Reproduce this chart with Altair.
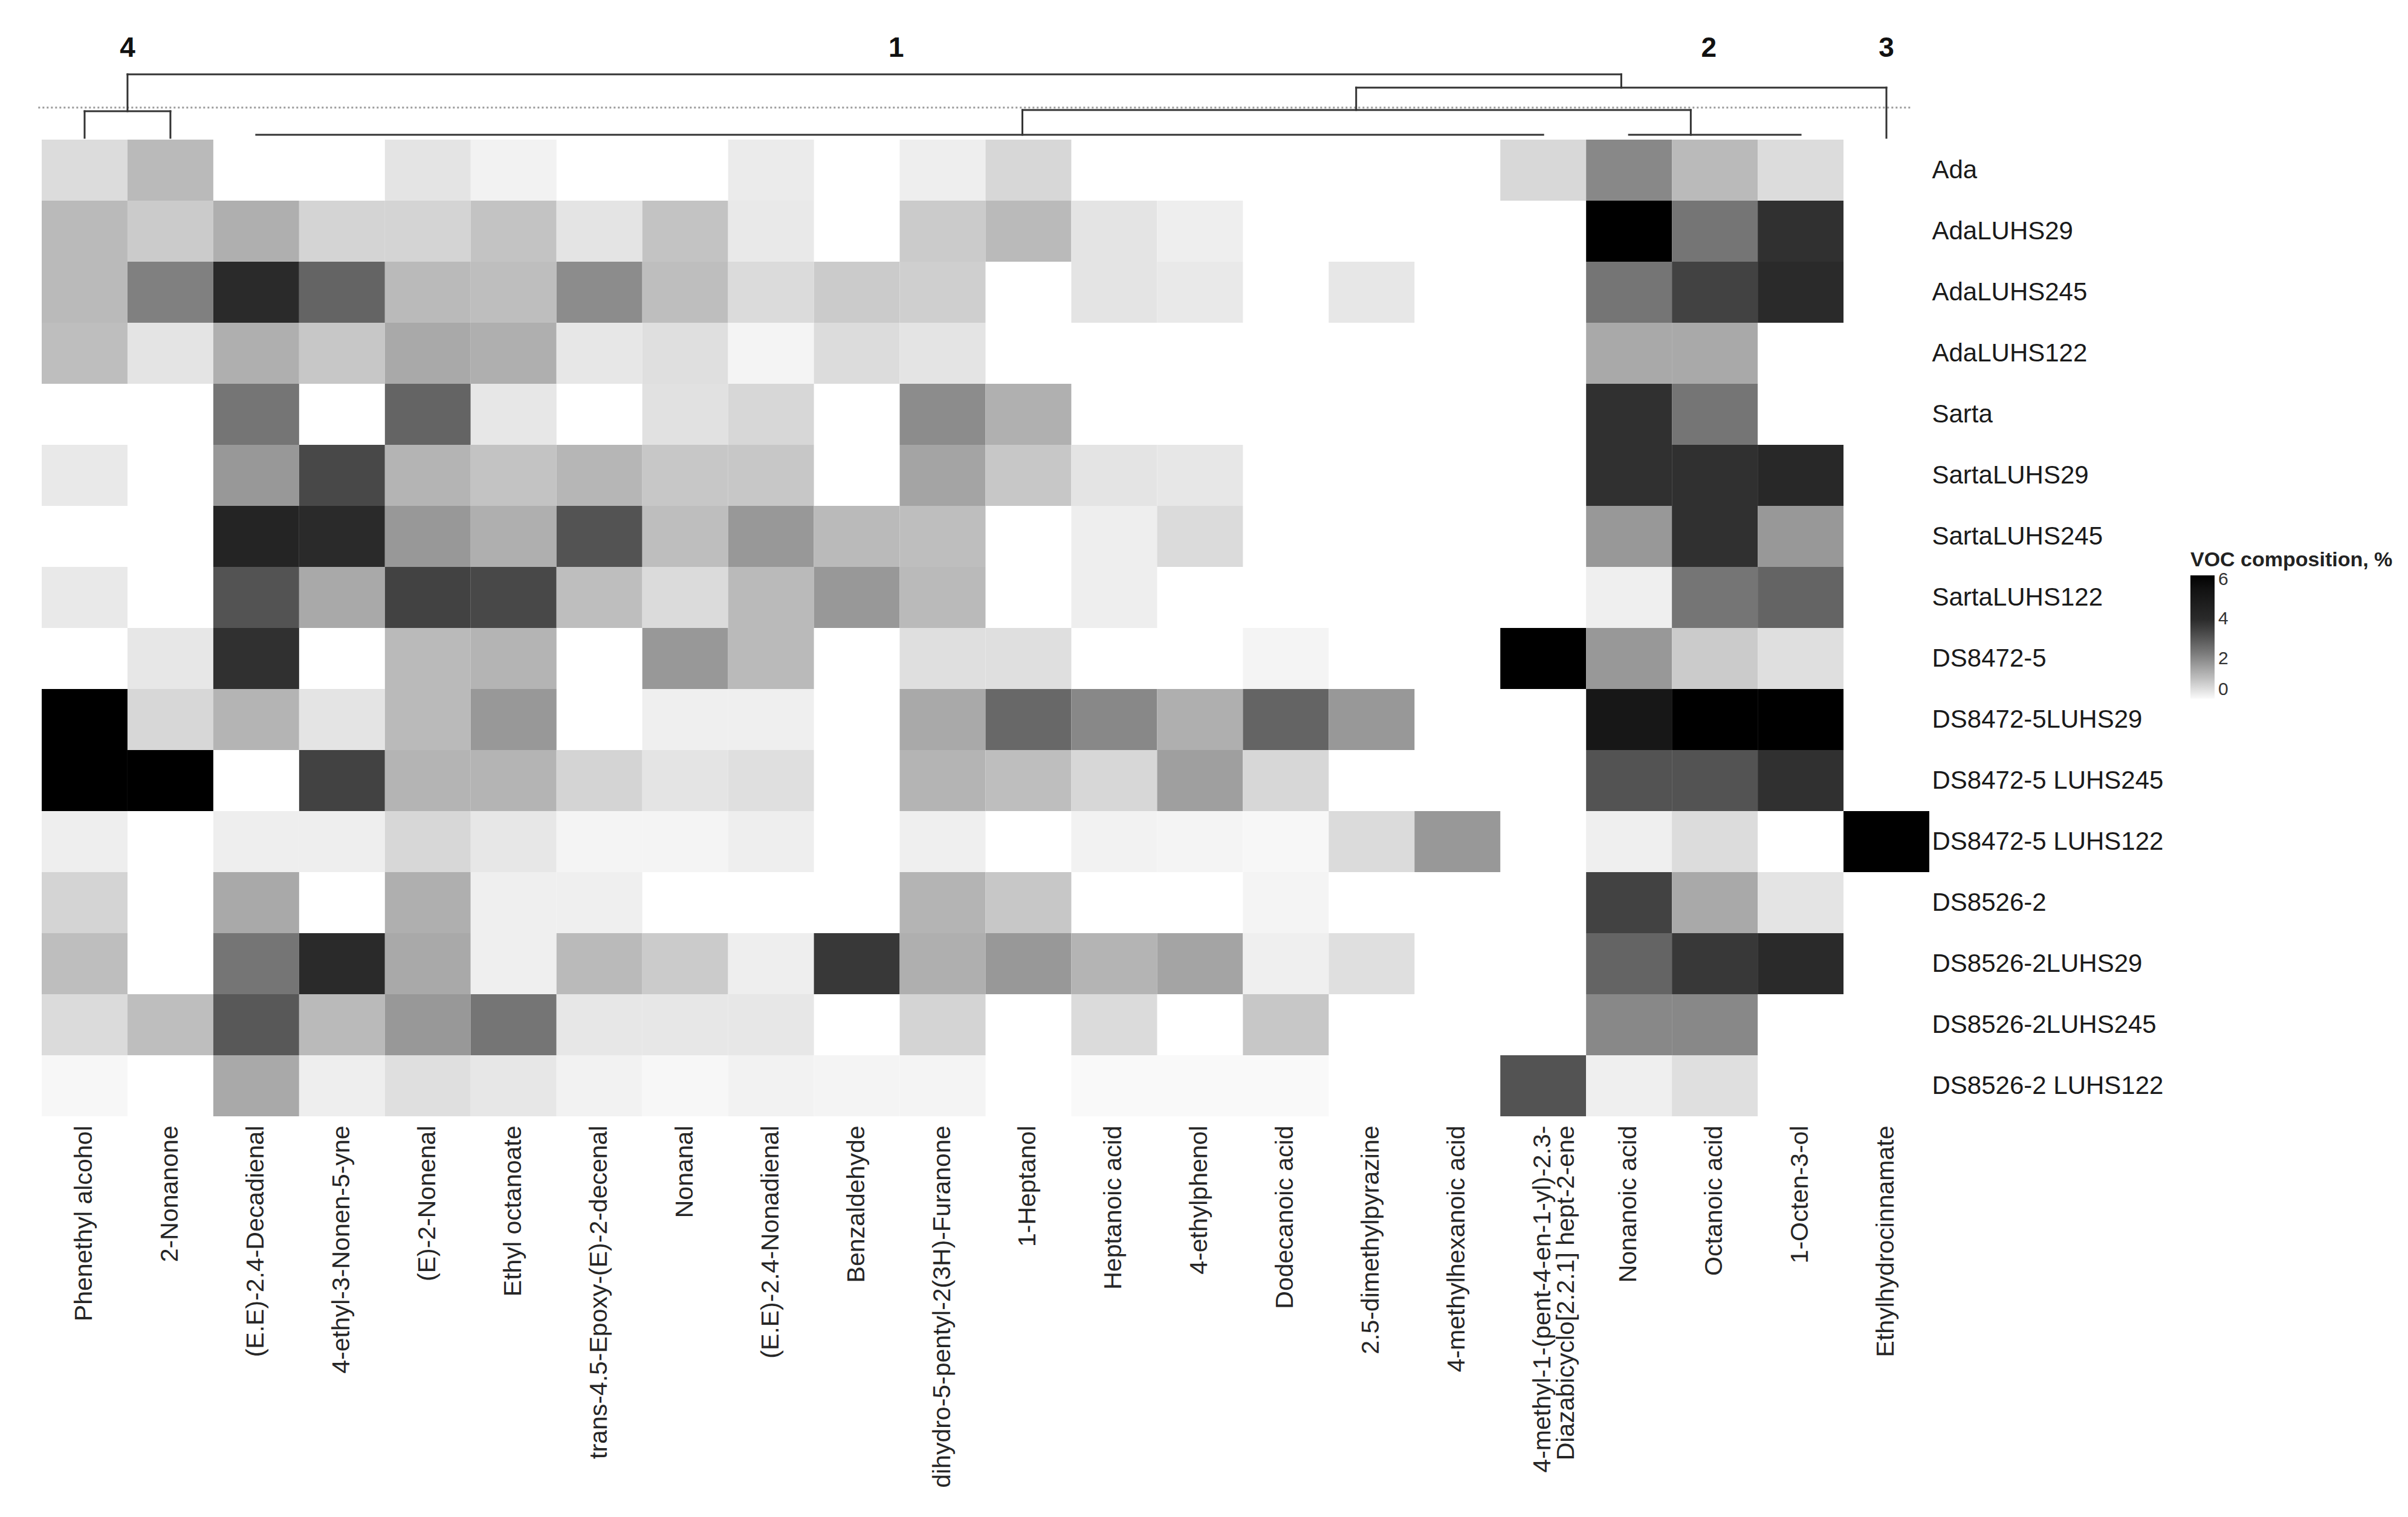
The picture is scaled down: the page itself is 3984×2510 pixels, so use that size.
import altair as alt
import pandas as pd

N = None

compounds = [
    "Phenethyl alcohol", "2-Nonanone", "(E.E)-2.4-Decadienal", "4-ethyl-3-Nonen-5-yne",
    "(E)-2-Nonenal", "Ethyl octanoate", "trans-4.5-Epoxy-(E)-2-decenal", "Nonanal",
    "(E.E)-2.4-Nonadienal", "Benzaldehyde", "dihydro-5-pentyl-2(3H)-Furanone", "1-Heptanol",
    "Heptanoic acid", "4-ethylphenol", "Dodecanoic acid", "2.5-dimethylpyrazine",
    "4-methylhexanoic acid",
    "4-methyl-1-(pent-4-en-1-yl)-2.3-\nDiazabicyclo[2.2.1] hept-2-ene",
    "Nonanoic acid", "Octanoic acid", "1-Octen-3-ol", "Ethylhydrocinnamate",
]

samples = [
    "Ada", "AdaLUHS29", "AdaLUHS245", "AdaLUHS122",
    "Sarta", "SartaLUHS29", "SartaLUHS245", "SartaLUHS122",
    "DS8472-5", "DS8472-5LUHS29", "DS8472-5 LUHS245", "DS8472-5 LUHS122",
    "DS8526-2", "DS8526-2LUHS29", "DS8526-2LUHS245", "DS8526-2 LUHS122",
]

ada            = [0.52, 1.12, N, N, 0.38, 0.14, N, N, 0.25, N, 0.21, 0.6, N, N, N, N, N, 0.59, 2.04, 1.12, 0.52, N]
ada_luhs29     = [1.12, 0.82, 1.32, 0.66, 0.66, 0.95, 0.38, 0.95, 0.29, N, 0.82, 1.12, 0.38, 0.21, N, N, N, N, 6.2, 2.4, 3.85, N]
ada_luhs245    = [1.12, 2.2, 4.0, 2.75, 1.12, 1.04, 1.96, 1.04, 0.54, 0.82, 0.75, N, 0.38, 0.29, N, 0.32, N, N, 2.4, 3.46, 4.0, N]
ada_luhs122    = [1.04, 0.38, 1.32, 0.89, 1.43, 1.32, 0.32, 0.46, 0.1, 0.52, 0.38, N, N, N, N, N, N, N, 1.43, 1.43, N, N]
sarta          = [N, N, 2.4, N, 2.75, 0.32, N, 0.43, 0.6, N, 1.96, 1.3, N, N, N, N, N, N, 3.85, 2.4, N, N]
sarta_luhs29   = [0.29, N, 1.73, 3.33, 1.23, 0.95, 1.18, 0.89, 0.89, N, 1.52, 0.89, 0.38, 0.32, N, N, N, N, 3.85, 3.85, 4.1, N]
sarta_luhs245  = [N, N, 4.38, 4.0, 1.73, 1.32, 3.1, 1.04, 1.73, 1.12, 1.04, N, 0.21, 0.54, N, N, N, N, 1.73, 3.85, 1.73, N]
sarta_luhs122  = [0.29, N, 3.1, 1.43, 3.46, 3.33, 1.04, 0.54, 1.12, 1.73, 1.12, N, 0.21, N, N, N, N, N, 0.18, 2.4, 2.75, N]
ds8472         = [N, 0.32, 3.85, N, 1.12, 1.23, N, 1.73, 1.12, N, 0.46, 0.46, N, N, 0.1, N, N, 6.2, 1.73, 0.82, 0.46, N]
ds8472_luhs29  = [6.2, 0.6, 1.23, 0.38, 1.12, 1.73, N, 0.18, 0.18, N, 1.43, 2.67, 2.04, 1.32, 2.75, 1.73, N, N, 5.2, 6.2, 6.2, N]
ds8472_luhs245 = [6.2, 6.2, N, 3.46, 1.23, 1.23, 0.66, 0.38, 0.46, N, 1.23, 1.04, 0.6, 1.61, 0.6, N, N, N, 3.1, 3.1, 3.85, N]
ds8472_luhs122 = [0.21, N, 0.21, 0.21, 0.6, 0.32, 0.1, 0.1, 0.21, N, 0.18, N, 0.14, 0.1, 0.05, 0.54, 1.73, N, 0.18, 0.52, N, 6.2]
ds8526         = [0.66, N, 1.43, N, 1.32, 0.18, 0.18, N, N, N, 1.23, 0.89, N, N, 0.1, N, N, N, 3.46, 1.43, 0.38, N]
ds8526_luhs29  = [1.04, N, 2.4, 4.0, 1.43, 0.18, 1.12, 0.82, 0.21, 3.67, 1.32, 1.73, 1.23, 1.52, 0.18, 0.46, N, N, 2.75, 3.67, 4.0, N]
ds8526_luhs245 = [0.54, 1.04, 3.0, 1.12, 1.73, 2.4, 0.32, 0.32, 0.32, N, 0.66, N, 0.54, N, 0.89, N, N, N, 2.04, 2.04, N, N]
ds8526_luhs122 = [0.05, N, 1.43, 0.21, 0.46, 0.32, 0.14, 0.05, 0.14, 0.1, 0.1, N, 0.02, 0.02, 0.02, N, N, 3.1, 0.18, 0.46, N, N]

rows = [ada, ada_luhs29, ada_luhs245, ada_luhs122,
        sarta, sarta_luhs29, sarta_luhs245, sarta_luhs122,
        ds8472, ds8472_luhs29, ds8472_luhs245, ds8472_luhs122,
        ds8526, ds8526_luhs29, ds8526_luhs245, ds8526_luhs122]

# dendrogram segments (x in column units, column i centre = i - 0.5; y = merge height)
seg_x  = [0.5, 1.5, 0.5, 1.0, 1.0, 18.41, 15.32, 21.5, 15.32, 11.43, 11.43, 2.5, 19.22, 18.5]
seg_x2 = [0.5, 1.5, 1.5, 1.0, 18.41, 18.41, 21.5, 21.5, 15.32, 19.22, 11.43, 17.5, 19.22, 20.5]
seg_y  = [0, 0, 44, 44, 105, 105, 83, 83, 83, 46, 46, 5, 46, 5]
seg_y2 = [44, 44, 44, 105, 105, 83, 83, 0, 46, 46, 5, 5, 5, 5]

cut_x, cut_x2, cut_y = [-0.04], [21.8], [50]

cluster_names = ["4", "1", "2", "3"]
cluster_x = [1.0, 9.96, 19.43, 21.5]
cluster_y = [148, 148, 148, 148]

records = []
for s, vals in zip(samples, rows):
    for c, v in zip(compounds, vals):
        if v is not None:
            records.append({"sample": s, "compound": c, "value": v})
df = pd.DataFrame(records)

FONT = "Liberation Sans"
W = 3123
H = 1616
DH = 200

xs = alt.Scale(domain=[0, 22], nice=False, zero=False)
ys = alt.Scale(domain=[0, DH], nice=False, zero=False)

dendro_df = pd.DataFrame({"x": seg_x, "x2": seg_x2, "y": seg_y, "y2": seg_y2})
rules = alt.Chart(dendro_df).mark_rule(color="#333333", strokeWidth=3, strokeCap="square").encode(
    x=alt.X("x:Q", scale=xs, axis=None), x2="x2:Q",
    y=alt.Y("y:Q", scale=ys, axis=None), y2="y2:Q",
)
cut = alt.Chart(pd.DataFrame({"x": cut_x, "x2": cut_x2, "y": cut_y})).mark_rule(
    color="#9a9a9a", strokeWidth=3, strokeDash=[3, 4]
).encode(x=alt.X("x:Q", scale=xs, axis=None), x2="x2:Q", y=alt.Y("y:Q", scale=ys, axis=None))
labels = alt.Chart(pd.DataFrame({"name": cluster_names, "x": cluster_x, "y": cluster_y})).mark_text(
    font=FONT, fontSize=46, fontWeight="bold", color="#111111", baseline="middle", align="center"
).encode(x=alt.X("x:Q", scale=xs, axis=None), y=alt.Y("y:Q", scale=ys, axis=None), text="name:N")

dendro = alt.layer(cut, rules, labels).properties(width=W, height=DH)

heat = alt.Chart(df).mark_rect(strokeWidth=0).encode(
    x=alt.X("compound:N", sort=compounds,
            scale=alt.Scale(domain=compounds, paddingInner=0, paddingOuter=0),
            axis=alt.Axis(orient="bottom", labelAngle=270, labelAlign="right", labelBaseline="middle",
                          labelPadding=15, ticks=False, domain=False, labelFontSize=41, labelFont=FONT,
                          labelColor="#262626", labelLimit=0, labelLineHeight=39,
                          labelExpr="split(datum.label, '\\n')", title=None)),
    y=alt.Y("sample:N", sort=samples,
            scale=alt.Scale(domain=samples, paddingInner=0, paddingOuter=0),
            axis=alt.Axis(orient="right", ticks=False, domain=False, labelPadding=4, labelFontSize=42,
                          labelFont=FONT, labelColor="#1a1a1a", labelLimit=0, labelAlign="left",
                          title=None)),
    color=alt.Color("value:Q",
                    scale=alt.Scale(domain=[0, 2, 4, 6.2],
                                    range=["#fafafa", "#8a8a8a", "#2a2a2a", "#000000"]),
                    legend=alt.Legend(title="VOC composition, %", orient="none", legendX=3555, legendY=882,
                                      direction="vertical", gradientLength=204, gradientThickness=40,
                                      gradientStrokeWidth=0, values=[0, 2, 4, 6],
                                      titleFont=FONT, titleFontSize=34, titleFontWeight="bold",
                                      titleColor="#222222", titlePadding=8, titleLimit=0,
                                      labelFont=FONT, labelFontSize=30, labelColor="#333333",
                                      labelOffset=6)),
).properties(width=W, height=H)

chart = alt.vconcat(dendro, heat, spacing=0).properties(
    padding={"left": 53, "top": 20, "right": 0, "bottom": 0},
    background="white",
).configure_view(stroke=None)

chart.save("out.html", embed_options={"renderer": "svg", "actions": False})
